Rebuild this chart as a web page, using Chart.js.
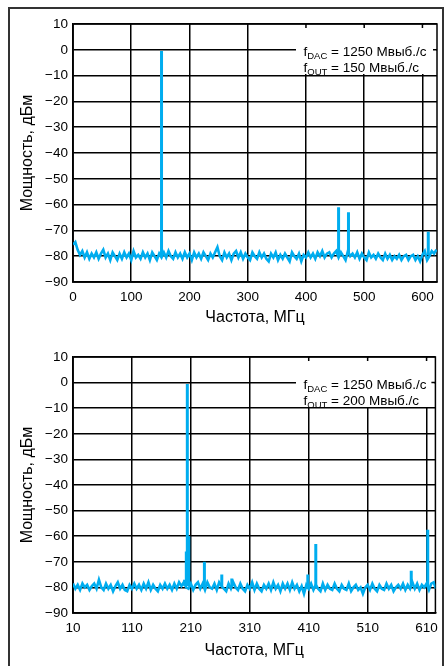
<!DOCTYPE html>
<html>
<head>
<meta charset="utf-8">
<script src="https://cdn.jsdelivr.net/npm/chart.js@4/dist/chart.umd.min.js"></script>
<style>
html, body { margin: 0; padding: 0; background: #fff; }
body { width: 445px; height: 666px; position: relative; overflow: hidden; }
#frame { position: absolute; left: 8px; top: 7px; width: 436px; height: 690px; border: 2px solid #333; box-sizing: border-box; }
.panel { position: absolute; left: 0; width: 445px; height: 333px; }
</style>
</head>
<body>
<div id="frame"></div>
<div class="panel" style="top:0"><canvas id="c1" width="445" height="333"></canvas></div>
<div class="panel" style="top:333px"><canvas id="c2" width="445" height="333"></canvas></div>
<script>
// axis ticks
const yTicks = [10, 0, -10, -20, -30, -40, -50, -60, -70, -80, -90];
const xTicks1 = [0, 100, 200, 300, 400, 500, 600];
const xTicks2 = [10, 110, 210, 310, 410, 510, 610];

// noise floor, one value every 4 MHz
const noiseStep = 4;
const noiseStart1 = 0;
const noise1 = [
  -75.5, -74.5, -77.5, -79.5, -78, -80.5, -78.5, -81, -79, -80.5,
  -78.5, -81, -79, -77.5, -80.5, -79, -81.5, -78.5, -80, -81.5,
  -79, -81, -78.5, -80.5, -79, -81.5, -78, -80.5, -79.5, -81,
  -78.5, -80.5, -79, -81.5, -78.5, -80, -81.5, -79, -80.5, -78.5,
  -80.5, -78, -80, -81, -78.5, -80.5, -79, -81, -78.5, -80.5,
  -79, -81.5, -78.5, -80.5, -79, -81, -78.5, -80, -81.5, -79,
  -80.5, -78.5, -76.5, -80, -81.5, -78.5, -80.5, -79, -81.5, -79,
  -78, -80.5, -78.5, -81, -79, -80.5, -81.5, -78.5, -80, -81,
  -78.5, -80.5, -79, -81, -82, -79, -80.5, -78.5, -81.5, -79.5,
  -81, -79, -80.5, -82, -78.5, -80, -81, -79, -82, -79.5,
  -80.5, -78.5, -80.5, -79, -81, -78.5, -80, -78, -80.5, -79,
  -78.5, -80.5, -79, -78, -80.5, -78.5, -80, -81.5, -78, -80,
  -79, -80.5, -78.5, -81, -79, -80.5, -81.5, -78.5, -80.5, -79.5,
  -81, -79, -80.5, -81.5, -79, -81, -79.5, -81.5, -80, -81,
  -79.5, -81.5, -80, -79.5, -81.5, -80, -79.5, -81.5, -80, -82,
  -79.5, -78, -81.5, -80, -78, -79, -77.5
];
const noiseStart2 = 10;
const noise2 = [
  -78.5, -80.5, -79, -81, -78.5, -80, -79, -81, -79.5, -78.5,
  -80.5, -77, -80, -81, -78.5, -80.5, -79, -81.5, -79.5, -78,
  -80.5, -79, -81, -81.5, -79, -80.5, -78.5, -80.5, -79, -81,
  -78.5, -80.5, -78, -81, -79, -80.5, -81.5, -79, -80.5, -78.5,
  -80.5, -79, -81, -78.5, -80.5, -78, -79.5, -78, -80, -80.5,
  -78.5, -81, -79, -78, -80.5, -78.5, -81, -78, -80, -80.5,
  -78.5, -81, -78, -79.5, -80.5, -81.5, -78.5, -80.5, -78, -80,
  -81, -78.5, -80.5, -81.5, -79, -80.5, -78, -81, -78.5, -80.5,
  -81.5, -79, -80.5, -78.5, -81, -78, -80.5, -79, -81.5, -78.5,
  -80.5, -78.5, -81, -78, -80.5, -79, -81.5, -79.5, -82.5, -79,
  -80.5, -78.5, -81, -79, -80.5, -81.5, -78.5, -81, -79, -80.5,
  -81, -78.5, -80.5, -81.5, -79, -80.5, -81, -78.5, -81.5, -80,
  -79, -81, -80, -82.5, -80, -79, -81, -78.5, -80.5, -81.5,
  -79, -80.5, -81, -78.5, -80.5, -79, -81.5, -80, -79, -80.5,
  -78.5, -81, -79, -80.5, -78, -80.5, -78.5, -81, -79, -80,
  -78.5, -81, -78.5, -78, -80.5
];

// spurs / carrier
const spikeFreq1 = [152, 456, 473, 610];
const spikeLevel1 = [-0.5, -61, -63, -70.5];
const spikeFreq2 = [199.5, 202.3, 204, 206.5, 233, 262.5, 279.5, 408.5, 422, 584, 612];
const spikeLevel2 = [-77, -66, -0.5, -60, -70, -75, -76.5, -75, -63, -73.5, -57.5];

const fDac = '1250';
const fOut1 = '150';
const fOut2 = '200';
const unitText = ' Мвыб./с';
const xTitle = 'Частота, МГц';
const yTitle = 'Мощность, дБм';

const FONT = "'Liberation Sans', Arial, sans-serif";
const BLUE = '#00ADEF';

function drawSubLine(ctx, x, y, sub, rest) {
  ctx.font = '13.5px ' + FONT;
  ctx.fillText('f', x, y);
  x += ctx.measureText('f').width;
  ctx.font = '9.5px ' + FONT;
  ctx.fillText(sub, x, y + 3);
  x += ctx.measureText(sub).width;
  ctx.font = '13.5px ' + FONT;
  ctx.fillText(rest, x, y);
}

function noteBox(outVal) {
  return {
    id: 'noteBox',
    beforeDatasetsDraw(chart) {
      const {ctx, chartArea: a, scales: {x, y}} = chart;
      const left = 296, bottom = a.top + 50;
      ctx.save();
      ctx.fillStyle = '#fff';
      ctx.fillRect(left, a.top + 1, a.right - left - 1, bottom - a.top - 1);
      ctx.strokeStyle = '#000';
      ctx.lineWidth = 1.5;
      ctx.beginPath();
      x.ticks.forEach(t => {
        const px = x.getPixelForValue(t.value);
        if (px > left) { ctx.moveTo(px, a.top); ctx.lineTo(px, a.top + 4); }
      });
      y.ticks.forEach(t => {
        const py = y.getPixelForValue(t.value);
        if (py > a.top + 2 && py < bottom) { ctx.moveTo(a.right - 4, py); ctx.lineTo(a.right, py); }
      });
      ctx.stroke();
      ctx.strokeRect(a.left, a.top, a.right - a.left, a.bottom - a.top);
      ctx.fillStyle = '#000';
      ctx.textBaseline = 'alphabetic';
      ctx.textAlign = 'left';
      drawSubLine(ctx, 303.5, a.top + 32, 'DAC', ' = ' + fDac + unitText);
      drawSubLine(ctx, 303.5, a.top + 48, 'OUT', ' = ' + outVal + unitText);
      ctx.restore();
    }
  };
}

function makeChart(id, noise, start, spikeF, spikeL, xMin, xTicks, outVal, xAxisH, padRight) {
  const noisePts = noise.map((v, i) => ({x: start + i * noiseStep, y: v}));
  const spikePts = [];
  spikeF.forEach((f, i) => {
    spikePts.push({x: f, y: -79.5}, {x: f, y: spikeL[i]}, {x: f, y: null});
  });
  new Chart(document.getElementById(id), {
    type: 'line',
    data: {
      datasets: [
        {data: noisePts, borderColor: BLUE, borderWidth: 2.6, pointRadius: 0, tension: 0},
        {data: spikePts, borderColor: BLUE, borderWidth: 3, pointRadius: 0, spanGaps: false}
      ]
    },
    options: {
      responsive: false,
      animation: false,
      devicePixelRatio: 1,
      layout: {padding: {left: 0, top: 24, right: padRight, bottom: 0}},
      plugins: {legend: {display: false}, tooltip: {enabled: false}},
      scales: {
        x: {
          type: 'linear', min: xMin, max: 625,
          afterBuildTicks: s => { s.ticks = xTicks.map(v => ({value: v})); },
          afterFit: s => { s.height = xAxisH; },
          grid: {color: '#000', lineWidth: 1.5, drawTicks: false},
          border: {color: '#000', width: 1.5},
          ticks: {color: '#000', font: {family: FONT, size: 13.5}, padding: 7, maxRotation: 0, autoSkip: false},
          title: {display: true, text: xTitle, color: '#000', font: {family: FONT, size: 16}, padding: {top: 0, bottom: 6}}
        },
        y: {
          min: -90, max: 10,
          afterBuildTicks: s => { s.ticks = yTicks.map(v => ({value: v})); },
          afterFit: s => { s.width = 73; },
          grid: {color: '#000', lineWidth: 1.5, drawTicks: false},
          border: {color: '#000', width: 1.5},
          ticks: {color: '#000', font: {family: FONT, size: 13.5}, padding: 5,
                  callback: v => String(v).replace('-', '\u2212')},
          title: {display: true, text: yTitle, color: '#000', font: {family: FONT, size: 16}, padding: {top: 18, bottom: 0}}
        }
      }
    },
    plugins: [noteBox(outVal)]
  });
}

makeChart('c1', noise1, noiseStart1, spikeFreq1, spikeLevel1, 0, xTicks1, fOut1, 51, 8);
makeChart('c2', noise2, noiseStart2, spikeFreq2, spikeLevel2, 10, xTicks2, fOut2, 53, 7);
</script>
</body>
</html>
